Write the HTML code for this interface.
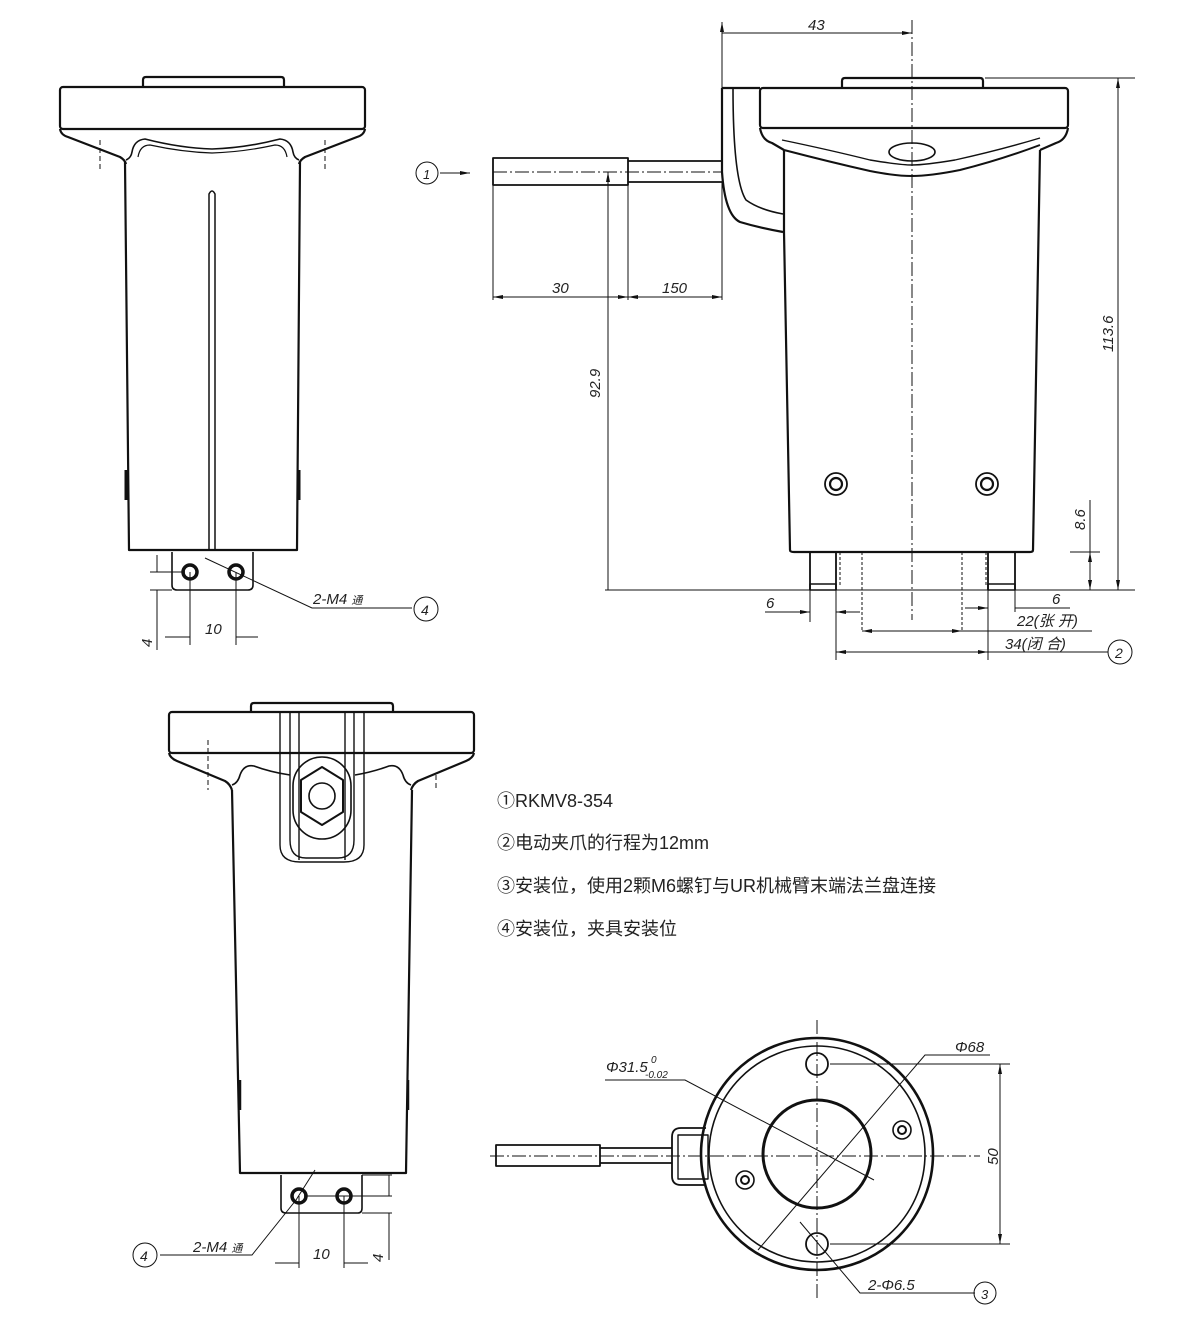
<!DOCTYPE html>
<html><head><meta charset="utf-8"><style>
html,body{margin:0;padding:0;background:#fff;}
svg{display:block;}
text{font-family:"Liberation Sans","Noto Sans CJK SC",sans-serif;fill:#222;}
.t{font-style:italic;font-size:15px;}
</style></head><body>
<svg width="1200" height="1337" viewBox="0 0 1200 1337" xmlns="http://www.w3.org/2000/svg">
<defs>
<marker id="a" viewBox="0 0 10 6" refX="10" refY="3" markerWidth="10" markerHeight="6" orient="auto-start-reverse"><path d="M0,1 L10,3 L0,5 z" fill="#111"/></marker>
</defs>
<g fill="none" stroke="#111" stroke-width="2.2" stroke-linejoin="round">
<!-- VIEW 1 -->
<path d="M143,87 V80 Q143,77 146,77 H281 Q284,77 284,80 V87"/>
<rect x="60" y="87" width="305" height="42" rx="3"/>
<path d="M60,129 Q61,135 68,137 L120,157 Q125,160 126,164 M365,129 Q364,135 357,137 L305,157 Q300,160 299,164"/>
<path d="M125,162 L129,550 H297 L300,162"/>
<path d="M126,160 Q131,158 132,152 Q134,140 145,139 Q180,148 212,149 Q245,148 280,139 Q291,140 293,152 Q294,158 299,160" stroke-width="1.6"/>
<path d="M138,157 Q140,145 150,145 Q182,152 212,153 Q243,152 275,145 Q285,145 287,157" stroke-width="1.2"/>
<path d="M209,550 V194 Q212,188 215,194 V550" stroke-width="1.5"/>
<path d="M126,470 V500 M299,470 V500" stroke-width="3"/>
<path d="M172,552 V585 Q172,590 177,590 H248 Q253,590 253,585 V552" stroke-width="1.6"/>
<circle cx="190" cy="572" r="7" stroke-width="3.5"/>
<circle cx="236" cy="572" r="7" stroke-width="3.5"/>
<!-- VIEW 2 -->
<path d="M842,88 V81 Q842,78 845,78 H980 Q983,78 983,81 V88"/>
<rect x="760" y="88" width="308" height="40" rx="3"/>
<path d="M722,88 H760 M722,88 V172 Q725,215 740,222 Q760,228 783,232"/>
<path d="M733,88 Q733,180 746,200 Q760,210 783,214" stroke-width="1.6"/>
<path d="M760,128 Q762,140 772,143 L784,150 M1068,128 Q1066,140 1056,143 L1040,150"/>
<path d="M784,150 V232 L790,550 Q790,552 794,552 H1030 Q1033,552 1033,550 L1040,150"/>
<path d="M784,150 Q830,162 870,171 Q895,176 912,176 Q930,176 960,170 Q1000,160 1040,145" stroke-width="2"/>
<path d="M782,140 Q830,150 870,160 Q900,165 912,165 Q925,165 955,160 Q1000,150 1040,138" stroke-width="1.4"/>
<ellipse cx="912" cy="152" rx="23" ry="9" stroke-width="1.6"/>
<path d="M810,552 V590 M836,552 V590 M988,552 V590 M1015,552 V590" stroke-width="1.8"/>
<path d="M810,584 H836 V590 H810 Z M988,584 H1015 V590 H988 Z" stroke-width="1.6"/>
<circle cx="836" cy="484" r="11" stroke-width="1.8"/><circle cx="836" cy="484" r="6"/>
<circle cx="987" cy="484" r="11" stroke-width="1.8"/><circle cx="987" cy="484" r="6"/>
<!-- cable -->
<rect x="493" y="158" width="135" height="27" stroke-width="1.8"/>
<path d="M628,161 H722 M628,182 H722" stroke-width="1.8"/>
<!-- VIEW 3 -->
<path d="M251,712 V706 Q251,703 254,703 H390 Q393,703 393,706 V712"/>
<rect x="169" y="712" width="305" height="41" rx="3"/>
<path d="M169,753 Q170,758 177,761 L225,781 Q230,784 232,790 M474,753 Q473,758 466,761 L418,781 Q413,784 411,790"/>
<path d="M232,790 L240,1173 H406 L412,790"/>
<path d="M232,785 Q238,783 240,775 Q244,764 254,766 Q270,772 290,775 M411,785 Q405,783 403,775 Q399,764 389,766 Q373,772 355,775" stroke-width="1.6"/>
<path d="M290,712 V840 Q290,858 306,858 H338 Q354,858 354,840 V712 M280,712 V845 Q280,862 300,862 H344 Q364,862 364,845 V712 M299,712 V860 M345,712 V860" stroke-width="1.4"/>
<rect x="293" y="757" width="58" height="82" rx="29" stroke-width="1.6"/>
<path d="M322,767 L343,780 V812 L322,825 L301,812 V780 Z" stroke-width="2"/>
<circle cx="322" cy="796" r="13" stroke-width="1.6"/>
<path d="M240,1080 V1110 M408,1080 V1110" stroke-width="2.5"/>
<path d="M281,1175 V1208 Q281,1213 286,1213 H358 Q362,1213 362,1208 V1175" stroke-width="1.6"/>
<circle cx="299" cy="1196" r="7" stroke-width="3.5"/>
<circle cx="344" cy="1196" r="7" stroke-width="3.5"/>
<!-- VIEW 4 -->
<circle cx="817" cy="1154" r="116" stroke-width="2.6"/>
<circle cx="817" cy="1154" r="108" stroke-width="1.6"/>
<circle cx="817" cy="1154" r="54" stroke-width="3"/>
<circle cx="817" cy="1064" r="11" stroke-width="1.8"/>
<circle cx="817" cy="1244" r="11" stroke-width="1.8"/>
<circle cx="902" cy="1130" r="9" stroke-width="1.6"/><circle cx="902" cy="1130" r="4" stroke-width="2"/>
<circle cx="745" cy="1180" r="9" stroke-width="1.6"/><circle cx="745" cy="1180" r="4" stroke-width="2"/>
<rect x="496" y="1145" width="104" height="21" stroke-width="1.8"/>
<path d="M600,1148 H672 M600,1163 H672" stroke-width="1.8"/>
<path d="M706,1128 H681 Q672,1128 672,1137 V1176 Q672,1185 681,1185 H706" stroke-width="1.8"/>
<rect x="678" y="1135" width="30" height="44" stroke-width="1.4"/>
</g>
<!-- thin lines -->
<g fill="none" stroke="#111" stroke-width="1">
<path d="M100,140 V170 M325,140 V170 M208,740 V790 M436,775 V790" stroke-dasharray="5,3"/>
<path d="M912,20 V620 M493,172 H722 M490,1156 H980 M817,1020 V1300" stroke-dasharray="14,3,2,3"/>
<path d="M840,552 V585 M862,552 V630 M962,552 V630 M986,552 V585" stroke-dasharray="3,2"/>
<!-- dims view1 -->
<path d="M150,572 H185 M150,590 H172 M157,555 V572 M157,590 V650" />
<path d="M190,572 V645 M236,572 V645 M165,637 H190 M236,637 H258" />
<path d="M205,558 L312,608 H412"/>
<!-- dims view2 -->
<path d="M722,22 V88 M722,33 H912" marker-start="url(#a)" />
<path d="M722,33 H912" marker-end="url(#a)"/>
<path d="M985,78 H1135 M1070,552 H1100 M605,590 H1135"/>
<path d="M1118,78 V590" marker-start="url(#a)" marker-end="url(#a)"/>
<path d="M1090,552 V590" marker-start="url(#a)" marker-end="url(#a)"/>
<path d="M1090,500 V552"/>
<path d="M608,172 V590" marker-start="url(#a)"/>
<path d="M493,185 V300 M628,185 V300 M722,182 V300"/>
<path d="M493,297 H628" marker-start="url(#a)" marker-end="url(#a)"/>
<path d="M628,297 H722" marker-start="url(#a)" marker-end="url(#a)"/>
<path d="M440,173 H470" marker-end="url(#a)"/>
<path d="M765,612 H810" marker-end="url(#a)"/><path d="M836,612 H860" marker-start="url(#a)"/>
<path d="M965,608 H988" marker-end="url(#a)"/><path d="M1015,608 H1070"/>
<path d="M810,590 V622 M836,590 V660 M988,590 V660 M1015,590 V612"/>
<path d="M862,631 H962" marker-start="url(#a)" marker-end="url(#a)"/><path d="M962,631 H1092"/>
<path d="M836,652 H988" marker-start="url(#a)" marker-end="url(#a)"/><path d="M988,652 H1108"/>
<!-- dims view3 -->
<path d="M362,1175 H392 M304,1196 H392 M362,1213 H392 M389,1175 V1196 M389,1213 V1260"/>
<path d="M299,1196 V1268 M344,1196 V1268 M275,1263 H299 M344,1263 H368"/>
<path d="M315,1170 L296,1200 L252,1255 H160"/>
<!-- dims view4 -->
<path d="M605,1080 H685 L874,1180 M758,1250 L925,1055 H990 M830,1064 H1010 M830,1244 H1010 M800,1222 L860,1293 H975"/>
<path d="M1000,1064 V1244" marker-start="url(#a)" marker-end="url(#a)"/>
<circle cx="427" cy="173" r="11"/>
<circle cx="426" cy="609" r="12"/>
<circle cx="1120" cy="652" r="12"/>
<circle cx="145" cy="1255" r="12"/>
<circle cx="985" cy="1293" r="11"/>
</g>
<g class="t">
<text x="808" y="30">43</text>
<text x="552" y="293">30</text>
<text x="662" y="293">150</text>
<text x="600" y="398" transform="rotate(-90 600 398)">92.9</text>
<text x="1113" y="352" transform="rotate(-90 1113 352)">113.6</text>
<text x="1085" y="530" transform="rotate(-90 1085 530)">8.6</text>
<text x="766" y="608">6</text>
<text x="1052" y="604">6</text>
<text x="1017" y="626">22(张 开)</text>
<text x="1005" y="649">34(闭 合)</text>
<text x="205" y="634">10</text>
<text x="152" y="647" transform="rotate(-90 152 647)">4</text>
<text x="313" y="604">2-M4 <tspan font-size="11">通</tspan></text>
<text x="193" y="1252">2-M4 <tspan font-size="11">通</tspan></text>
<text x="313" y="1259">10</text>
<text x="383" y="1262" transform="rotate(-90 383 1262)">4</text>
<text x="606" y="1072">Φ31.5</text>
<text x="651" y="1063" font-size="10">0</text>
<text x="645" y="1078" font-size="10">-0.02</text>
<text x="955" y="1052">Φ68</text>
<text x="998" y="1165" transform="rotate(-90 998 1165)">50</text>
<text x="868" y="1290">2-Φ6.5</text>
<text x="423" y="179" font-size="13">1</text>
<text x="421" y="615" font-size="14">4</text>
<text x="1115" y="658" font-size="14">2</text>
<text x="140" y="1261" font-size="14">4</text>
<text x="981" y="1299" font-size="13">3</text>
</g>
<g font-size="18" style="font-family:'Liberation Sans','Noto Sans CJK SC',sans-serif">
<text x="497" y="807">①RKMV8-354</text>
<text x="497" y="849">②电动夹爪的行程为12mm</text>
<text x="497" y="892">③安装位，使用2颗M6螺钉与UR机械臂末端法兰盘连接</text>
<text x="497" y="935">④安装位，夹具安装位</text>
</g>
</svg>
</body></html>
